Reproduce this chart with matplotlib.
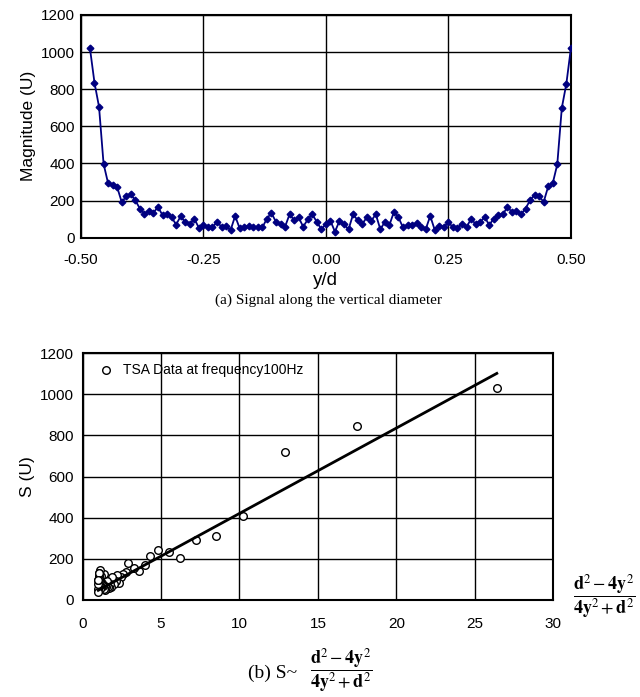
import numpy as np
import matplotlib.pyplot as plt

plt.rcParams['font.family'] = ['Liberation Sans', 'DejaVu Sans']
plt.rcParams['mathtext.fontset'] = 'stix'

# signal along the vertical diameter, y/d from -0.481 to 0.50
yd_start = -0.481
yd_end = 0.50
magnitude = [1020, 835, 705, 398,
             293, 285, 272, 192, 222, 233, 201, 157, 128, 142, 135, 165, 121, 125, 109, 71,
             116, 82, 73, 103, 53, 68, 55, 55, 85, 59, 62, 41, 117, 50,
             59, 62, 55, 55, 55, 103, 133, 85, 73, 59, 126, 94, 109, 59, 98, 126, 85, 45, 73, 91,
             32, 91, 73, 45, 126, 94, 73, 109, 91, 126, 45, 85, 68, 139, 109, 55, 68, 68, 77, 59,
             45, 117, 41, 64, 55, 85, 55, 53, 73, 55, 103, 73, 82, 112, 68, 103, 121, 125, 165, 139,
             144, 125, 157, 201, 231, 224, 192, 276, 293, 395, 699, 829, 1020]

# TSA data against the geometric factor
sc_x = [26.4, 17.5, 12.9, 10.2, 8.5, 7.2, 6.2, 5.5, 4.8, 4.3,
        4.0, 3.6, 3.3, 2.9, 2.75, 2.6, 2.45, 2.3, 2.2, 2.1,
        2.0, 1.9, 1.83, 1.76, 1.69, 1.62, 1.56, 1.51, 1.46, 1.42,
        1.38, 1.34, 1.30, 1.27, 1.24, 1.21, 1.18, 1.16, 1.14, 1.12,
        1.10, 1.08, 1.07, 1.06, 1.04, 1.03, 1.02, 1.02, 1.01, 1.01,
        1.0, 1.0, 1.0]
sc_s = [1030, 845, 720, 410, 310, 290, 205, 232, 243, 214,
        170, 142, 154, 178, 135, 128, 112, 84, 120, 90,
        80, 110, 62, 80, 60, 62, 92, 62, 70, 48,
        125, 52, 66, 84, 75, 75, 62, 116, 146, 75,
        92, 52, 133, 98, 116, 80, 101, 133, 52, 80,
        98, 40, 98]

# linear trend
fit_x = [1.0, 26.4]
fit_s = [47, 1101]

yd = np.linspace(yd_start, yd_end, len(magnitude))

fig = plt.figure(figsize=(6.4, 6.97), dpi=100)

# (a) magnitude along diameter
ax1 = fig.add_axes([0.126, 0.659, 0.766, 0.3195])
ax1.plot(yd, magnitude, color='#000080', lw=1.3, marker='D', ms=3.4, zorder=3)
ax1.set_xlim(-0.5, 0.5)
ax1.set_ylim(0, 1200)
ax1.set_xticks([-0.5, -0.25, 0, 0.25, 0.5])
ax1.set_xticklabels(['-0.50', '-0.25', '0.00', '0.25', '0.50'])
ax1.set_yticks(range(0, 1201, 200))
ax1.grid(True, color='black', lw=1)
ax1.tick_params(length=0, labelsize=11, pad=4)
ax1.tick_params(axis='x', pad=11)
ax1.set_xlabel('y/d', fontsize=13.5)
ax1.xaxis.set_label_coords(0.5, -0.152)
ax1.set_ylabel('Magnitude (U)', fontsize=12.5)
for sp in ax1.spines.values():
    sp.set_linewidth(1.5)

fig.text(0.513, 1 - 300 / 697, '(a) Signal along the vertical diameter',
         family='Liberation Serif', fontsize=11, ha='center', va='center')

# (b) S against geometric factor
ax2 = fig.add_axes([0.129, 0.1392, 0.7355, 0.3543])
ax2.scatter(sc_x, sc_s, s=30, facecolors='white', edgecolors='black', lw=1,
            zorder=3, label='TSA Data at frequency100Hz')
ax2.plot(fit_x, fit_s, color='black', lw=2, zorder=4)
ax2.set_xlim(0, 30)
ax2.set_ylim(0, 1200)
ax2.set_xticks(range(0, 31, 5))
ax2.set_yticks(range(0, 1201, 200))
ax2.grid(True, color='black', lw=1)
ax2.tick_params(length=0, labelsize=11, pad=6)
ax2.tick_params(axis='x', pad=12)
ax2.set_ylabel('S (U)', fontsize=12.5)
for sp in ax2.spines.values():
    sp.set_linewidth(1.5)
ax2.legend(loc='upper left', frameon=False, fontsize=10, handletextpad=0.2,
           borderaxespad=0.3, markerscale=1)

frac = r'$\dfrac{\mathbf{d}^{2}-\mathbf{4y}^{2}}{\mathbf{4y}^{2}+\mathbf{d}^{2}}$'
fig.text(604 / 640, 1 - 597 / 697, frac, fontsize=13, ha='center', va='center')
fig.text(248 / 640, 1 - 673 / 697, '(b) S~', family='Liberation Serif',
         fontsize=14, ha='left', va='center')
fig.text(341 / 640, 1 - 671 / 697, frac, fontsize=13, ha='center', va='center')

fig.savefig('out.png', dpi=100)
